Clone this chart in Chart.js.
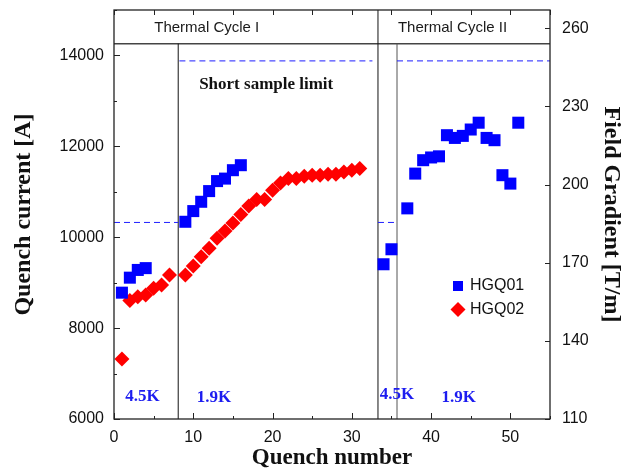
<!DOCTYPE html>
<html>
<head>
<meta charset="utf-8">
<script src="https://cdn.jsdelivr.net/npm/chart.js@4.4.1/dist/chart.umd.min.js"></script>
<style>
  body { margin: 0; background: #fff; }
  canvas { display: block; }
</style>
</head>
<body>
<canvas id="quenchChart" width="629" height="473"></canvas>
<script>
// HGQ01 (blue squares)
const hgq01Quench = [1, 2, 3, 4, 9, 10, 11, 12, 13, 14, 15, 16,
    34, 35, 37, 38, 39, 40, 41, 42, 43, 44, 45, 46, 47, 48, 49, 50, 51];
const hgq01Current = [8780, 9110, 9280, 9320, 10340, 10575, 10780, 11015, 11235, 11290, 11475, 11585,
    9405, 9735, 10635, 11400, 11695, 11755, 11780, 12245, 12185, 12230, 12370, 12520, 12185, 12135, 11365, 11180, 12520];

// HGQ02 (red diamonds)
const hgq02Quench = [1, 2, 3, 4, 5, 6, 7, 9, 10, 11, 12, 13, 14, 15, 16, 17, 18, 19, 20,
    21, 22, 23, 24, 25, 26, 27, 28, 29, 30, 31];
const hgq02Current = [7320, 8605, 8690, 8730, 8875, 8950, 9170, 9170, 9365, 9570, 9755, 9975, 10135, 10315, 10500, 10685, 10830, 10830, 11035,
    11195, 11290, 11290, 11340, 11365, 11365, 11385, 11385, 11435, 11475, 11510];

// reference lines
const shortSampleLow = 10325;   // 4.5K short sample limit [A]
const shortSampleHigh = 13880;  // 1.9K short sample limit [A]
const headerLevel = 14260;      // line under the thermal cycle band
const cycleBreak = 33.3;        // thermal cycle I / II
const coolDown1 = 8.1;          // 4.5K -> 1.9K in cycle I
const coolDown2 = 35.7;         // 4.5K -> 1.9K in cycle II

// axes
const xMin = 0, xMax = 55;
const currentMin = 6000, currentMax = 15000;
const gradientMin = 110, gradientMax = 267;
const gradientTicks = [110, 140, 170, 200, 230, 260];

const headerLabels = [
    { text: 'Thermal Cycle I', x: 11.7, y: 14615 },
    { text: 'Thermal Cycle II', x: 42.7, y: 14615 }
];
const tempLabels = [
    { text: '4.5K', x: 3.6, y: 6500 },
    { text: '1.9K', x: 12.6, y: 6460 },
    { text: '4.5K', x: 35.7, y: 6535 },
    { text: '1.9K', x: 43.5, y: 6470 }
];
const limitLabel = { text: 'Short sample limit', x: 19.2, y: 13350 };

function toPoints(xs, ys) {
    return xs.map((x, i) => ({ x: x, y: ys[i] }));
}

function refLine(x1, y1, x2, y2, color, width, dash) {
    return {
        type: 'line',
        data: [{ x: x1, y: y1 }, { x: x2, y: y2 }],
        borderColor: color,
        borderWidth: width,
        borderDash: dash || [],
        pointRadius: 0,
        showLine: true,
        fill: false
    };
}

const dashBlue = '#1e1eff';

// frame, inward tick marks, annotations and legend
const decorations = {
    id: 'decorations',
    afterDraw(chart) {
        const ctx = chart.ctx;
        const area = chart.chartArea;
        const xs = chart.scales.x;
        const ys = chart.scales.y;
        const y2 = chart.scales.y2;
        ctx.save();

        // frame
        ctx.strokeStyle = '#222';
        ctx.lineWidth = 1.3;
        ctx.strokeRect(area.left, area.top, area.right - area.left, area.bottom - area.top);

        // tick marks (pointing inwards)
        ctx.lineWidth = 1;
        ctx.beginPath();
        xs.ticks.forEach(t => {
            const px = Math.round(xs.getPixelForValue(t.value)) + 0.5;
            const len = t.value % 10 === 0 ? 6 : 3;
            ctx.moveTo(px, area.bottom);
            ctx.lineTo(px, area.bottom - len);
            ctx.moveTo(px, area.top);
            ctx.lineTo(px, area.top + 5);
        });
        ys.ticks.forEach(t => {
            const py = Math.round(ys.getPixelForValue(t.value)) + 0.5;
            const len = t.value % 2000 === 0 ? 6 : 3;
            ctx.moveTo(area.left, py);
            ctx.lineTo(area.left + len, py);
        });
        y2.ticks.forEach(t => {
            const py = Math.round(y2.getPixelForValue(t.value)) + 0.5;
            ctx.moveTo(area.right, py);
            ctx.lineTo(area.right - 5, py);
        });
        ctx.stroke();

        // thermal cycle headers
        ctx.fillStyle = '#1a1a1a';
        ctx.textAlign = 'center';
        ctx.textBaseline = 'middle';
        ctx.font = '15px "Liberation Sans", Arial, sans-serif';
        headerLabels.forEach(l => {
            ctx.fillText(l.text, xs.getPixelForValue(l.x), ys.getPixelForValue(l.y));
        });

        // short sample limit
        ctx.fillStyle = '#111';
        ctx.font = 'bold 17px "Liberation Serif", "Times New Roman", serif';
        ctx.fillText(limitLabel.text, xs.getPixelForValue(limitLabel.x), ys.getPixelForValue(limitLabel.y));

        // temperatures
        ctx.fillStyle = '#1c1cf0';
        tempLabels.forEach(l => {
            ctx.fillText(l.text, xs.getPixelForValue(l.x), ys.getPixelForValue(l.y));
        });

        // legend
        ctx.textAlign = 'left';
        ctx.font = '16px "Liberation Sans", Arial, sans-serif';
        ctx.fillStyle = '#0000ff';
        ctx.fillRect(453, 281, 10, 10);
        ctx.fillStyle = '#111';
        ctx.fillText('HGQ01', 470, 286);
        ctx.fillStyle = '#ff0000';
        ctx.beginPath();
        ctx.moveTo(458, 302);
        ctx.lineTo(465.5, 309.5);
        ctx.lineTo(458, 317);
        ctx.lineTo(450.5, 309.5);
        ctx.closePath();
        ctx.fill();
        ctx.fillStyle = '#111';
        ctx.fillText('HGQ02', 470, 310);

        ctx.restore();
    }
};

const ctx = document.getElementById('quenchChart').getContext('2d');
const quenchChart = new Chart(ctx, {
    type: 'scatter',
    data: {
        datasets: [
            {
                label: 'HGQ01',
                data: toPoints(hgq01Quench, hgq01Current),
                pointStyle: 'rect',
                pointRadius: 8.5,
                pointHoverRadius: 8.5,
                backgroundColor: '#0000ff',
                borderColor: '#0000ff',
                borderWidth: 0
            },
            {
                label: 'HGQ02',
                data: toPoints(hgq02Quench, hgq02Current),
                pointStyle: 'rectRot',
                pointRadius: 7.5,
                pointHoverRadius: 7.5,
                backgroundColor: '#ff0000',
                borderColor: '#ff0000',
                borderWidth: 0
            },
            refLine(xMin, shortSampleLow, coolDown1, shortSampleLow, dashBlue, 1, [6, 4]),
            refLine(cycleBreak, shortSampleLow, coolDown2, shortSampleLow, dashBlue, 1, [6, 4]),
            refLine(8.25, shortSampleHigh, 32.6, shortSampleHigh, dashBlue, 1, [6, 4]),
            refLine(coolDown2, shortSampleHigh, xMax, shortSampleHigh, dashBlue, 1, [6, 4]),
            refLine(coolDown1, currentMin, coolDown1, headerLevel, '#111', 1),
            refLine(coolDown2, currentMin, coolDown2, headerLevel, '#555', 1),
            refLine(cycleBreak, currentMin, cycleBreak, currentMax, '#111', 1),
            refLine(xMin, headerLevel, xMax, headerLevel, '#444', 1.5)
        ]
    },
    options: {
        responsive: false,
        animation: false,
        layout: { padding: { top: 10, left: 0, right: 0, bottom: 0 } },
        plugins: {
            legend: { display: false },
            tooltip: { enabled: false }
        },
        scales: {
            x: {
                type: 'linear',
                position: 'bottom',
                min: xMin,
                max: xMax,
                grid: { display: false, drawTicks: false },
                border: { display: false },
                ticks: {
                    stepSize: 5,
                    autoSkip: false,
                    maxRotation: 0,
                    padding: 9,
                    color: '#111',
                    font: { family: '"Liberation Sans", Arial, sans-serif', size: 16 },
                    callback: v => (v % 10 === 0 ? v : '')
                },
                title: {
                    display: true,
                    text: 'Quench number',
                    color: '#111',
                    font: { family: '"Liberation Serif", "Times New Roman", serif', size: 23, weight: 'bold' },
                    padding: { top: 0, bottom: 1 }
                },
                afterFit: scale => {
                    scale.height = 54;
                    scale.paddingLeft = 0;
                    scale.paddingRight = 0;
                }
            },
            y: {
                type: 'linear',
                position: 'left',
                min: currentMin,
                max: currentMax,
                grid: { display: false, drawTicks: false },
                border: { display: false },
                ticks: {
                    stepSize: 1000,
                    padding: 10,
                    color: '#111',
                    font: { family: '"Liberation Sans", Arial, sans-serif', size: 16 },
                    callback: v => (v % 2000 === 0 && v < currentMax ? v : '')
                },
                title: {
                    display: true,
                    text: 'Quench current [A]',
                    color: '#111',
                    font: { family: '"Liberation Serif", "Times New Roman", serif', size: 24, weight: 'bold' },
                    padding: { top: 9, bottom: 0 }
                },
                afterFit: scale => {
                    scale.width = 114;
                    scale.paddingTop = 0;
                    scale.paddingBottom = 0;
                }
            },
            y2: {
                type: 'linear',
                position: 'right',
                min: gradientMin,
                max: gradientMax,
                grid: { display: false, drawTicks: false },
                border: { display: false },
                afterBuildTicks: scale => {
                    scale.ticks = gradientTicks.map(v => ({ value: v }));
                },
                ticks: {
                    padding: 12,
                    color: '#111',
                    font: { family: '"Liberation Sans", Arial, sans-serif', size: 16 }
                },
                title: {
                    display: true,
                    text: 'Field Gradient [T/m]',
                    color: '#111',
                    font: { family: '"Liberation Serif", "Times New Roman", serif', size: 24, weight: 'bold' },
                    padding: { top: 3, bottom: 0 }
                },
                afterFit: scale => {
                    scale.width = 79;
                    scale.paddingTop = 0;
                    scale.paddingBottom = 0;
                }
            }
        }
    },
    plugins: [decorations]
});
</script>
</body>
</html>
